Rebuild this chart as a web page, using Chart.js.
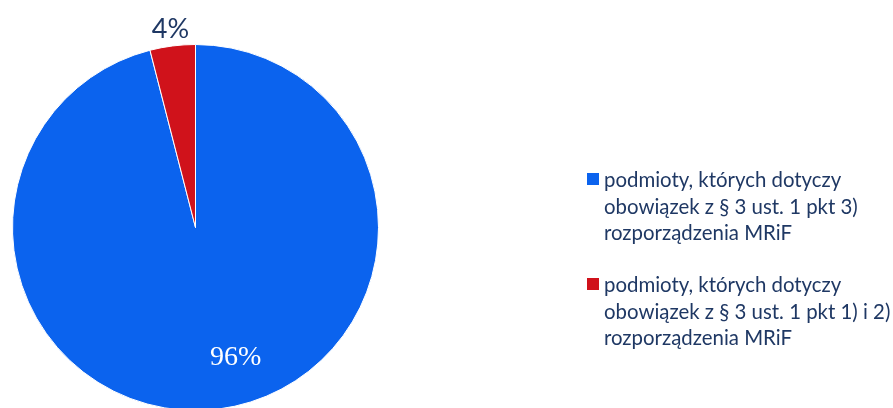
<!DOCTYPE html>
<html>
<head>
<meta charset="utf-8">
<script src="https://cdn.jsdelivr.net/npm/chart.js@4"></script>
<style>
  html, body { margin: 0; padding: 0; background: #fff; overflow: hidden; }
  canvas { display: block; }
</style>
</head>
<body>
<canvas id="pieChart" width="893" height="412"></canvas>
<script>
const labels = [
    ['podmioty, których dotyczy', 'obowiązek z § 3 ust. 1 pkt 3)', 'rozporządzenia MRiF'],
    ['podmioty, których dotyczy', 'obowiązek z § 3 ust. 1 pkt 1) i 2)', 'rozporządzenia MRiF']
];
const values = [96, 4];
const valueLabels = ['96%', '4%'];
const colors = ['#0B63EE', '#D0121B'];

const navy = '#1F3864';

// labels on / above the slices
const sliceLabels = {
    id: 'sliceLabels',
    afterDatasetsDraw(chart) {
        const c = chart.ctx;
        const arcs = chart.getDatasetMeta(0).data;
        c.save();
        c.textAlign = 'center';
        c.textBaseline = 'middle';
        arcs.forEach(function (arc, i) {
            const R = arc.outerRadius;
            if (i === 0) {
                // big slice: label sits low and a bit right of centre
                c.font = '28px "Liberation Serif", serif';
                c.fillStyle = '#ffffff';
                c.fillText(valueLabels[i], arc.x + R * 0.22, arc.y + R * 0.71);
            } else {
                const mid = (arc.startAngle + arc.endAngle) / 2;
                c.font = '27px Lato, sans-serif';
                c.fillStyle = navy;
                c.fillText(valueLabels[i], arc.x + Math.cos(mid) * (R + 17), arc.y + Math.sin(mid) * (R + 17));
            }
        });
        c.restore();
    }
};

// legend with wrapped lines on the right
const sideLegend = {
    id: 'sideLegend',
    afterDraw(chart) {
        const c = chart.ctx;
        const tops = [187, 292];
        c.save();
        c.font = '20.4px Lato, sans-serif';
        c.textBaseline = 'alphabetic';
        c.textAlign = 'left';
        labels.forEach(function (lines, i) {
            c.fillStyle = colors[i];
            c.fillRect(587, tops[i] - 14, 12, 12);
            c.fillStyle = navy;
            lines.forEach(function (line, j) {
                c.fillText(line, 604, tops[i] + j * 26.5);
            });
        });
        c.restore();
    }
};

new Chart(document.getElementById('pieChart'), {
    type: 'pie',
    data: {
        labels: labels,
        datasets: [{
            data: values,
            backgroundColor: colors,
            borderColor: '#ffffff',
            borderWidth: 1
        }]
    },
    options: {
        responsive: false,
        animation: false,
        layout: { padding: { left: 12, top: 44, right: 514, bottom: 1 } },
        plugins: {
            legend: { display: false },
            tooltip: { enabled: false }
        }
    },
    plugins: [sliceLabels, sideLegend]
});
</script>
</body>
</html>
